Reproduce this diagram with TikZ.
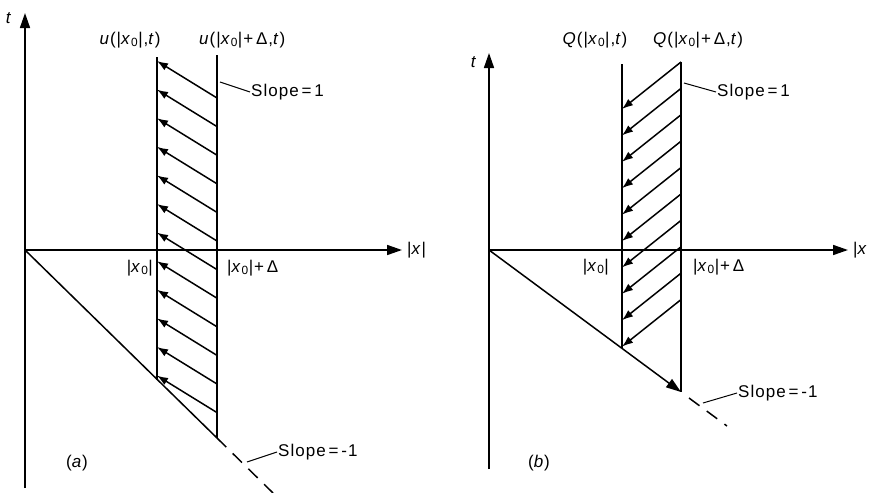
\documentclass[tikz,border=0pt]{standalone}
\usepackage{fontspec}
\setmainfont[LetterSpace=6]{Liberation Sans}
\usetikzlibrary{arrows.meta}
\newcommand\xnull{|\textit{x}\textsubscript{0}|}

\begin{document}
\begin{tikzpicture}[
  x=1pt, y=-1pt,
  font=\fontsize{17}{20}\selectfont,
  axis/.style={line width=1.6pt, -{Triangle[length=15pt,width=10pt]}},
  wall/.style={line width=1.6pt},
  charc/.style={line width=1.5pt, -{Latex[length=11pt,width=8pt]}},
  edge/.style={line width=1.5pt},
  guide/.style={line width=1.5pt, dash pattern=on 13pt off 9pt},
  leader/.style={line width=1pt},
  lbl/.style={inner sep=1pt},
]
\useasboundingbox (0,0) rectangle (871,493);
% Pixel grid, y grows downwards; both panels share the |x| axis at y=250.

% --- Panel (a): u ---------------------------------------------------------
\coordinate (oa) at (25,250);
\coordinate (latop) at (157,57);
\coordinate (labot) at (157,380);
\coordinate (ratop) at (217,55);
\coordinate (rabot) at (217,438);
\coordinate (daend) at (273,493);

\draw[axis] (25,488) -- (25,13) coordinate (tatip);
\draw[axis] (oa) -- (402,250) coordinate (xatip);
\node[lbl] (ta) at (9,18) {\textit{t}};
\node[lbl, anchor=west] (xa) at (406,250) {|\textit{x}|};

\draw[wall] (latop) -- (labot);
\draw[wall] (ratop) -- (rabot);
\draw[edge] (oa) -- (rabot);
\draw[guide] (rabot) -- (daend);

\foreach \k in {0,...,11}
  \draw[charc] (217,{98+28.6*\k}) -- (157,{61+28.6*\k});

\node[lbl] (ua) at (130,40) {\textit{u}(\xnull,\textit{t})};
\node[lbl, anchor=west] (uda) at (198,40) {\textit{u}(\xnull+\,Δ,\textit{t})};
\node[lbl, anchor=east] (x0a) at (154,268) {\xnull};
\node[lbl, anchor=west] (x0da) at (226,268) {\xnull+\,Δ};

\node[lbl, anchor=west] (s1a) at (250,92) {Slope\,=\,1};
\draw[leader] (220,82) -- (s1a.west);
\node[lbl, anchor=west] (sma) at (277,452) {Slope\,=\,-1};
\draw[leader] (247,462) -- (sma.west);
\node[lbl] (capa) at (77,463) {(\textit{a})};

% --- Panel (b): Q ---------------------------------------------------------
\coordinate (ob) at (489,250);
\coordinate (lbtop) at (622,64);
\coordinate (lbbot) at (622,348);
\coordinate (rbtop) at (681,62);
\coordinate (rbbot) at (681,392);
\coordinate (dbbeg) at (689,398);
\coordinate (dbend) at (727,426);

\draw[axis] (489,469) -- (489,53) coordinate (tbtip);
\draw[axis] (ob) -- (848,250) coordinate (xbtip);
\node[lbl] (tb) at (474,62) {\textit{t}};
\node[lbl, anchor=west] (xb) at (852,250) {|\textit{x}};

\draw[wall] (lbtop) -- (lbbot);
\draw[wall] (rbtop) -- (rbbot);
\draw[edge, -{Triangle[length=15pt,width=10pt]}] (ob) -- (rbbot);
\draw[guide] (dbbeg) -- (dbend);

\foreach \k in {0,...,9}
  \draw[charc] (681,{62+26.4*\k}) -- (622,{109+26.4*\k});

\node[lbl] (qb) at (595,40) {\textit{Q}(\xnull,\textit{t})};
\node[lbl, anchor=west] (qdb) at (652,40) {\textit{Q}(\xnull+\,Δ,\textit{t})};
\node[lbl, anchor=east] (x0b) at (610,267) {\xnull};
\node[lbl, anchor=west] (x0db) at (692,267) {\xnull+\,Δ};

\node[lbl, anchor=west] (s1b) at (716,92) {Slope\,=\,1};
\draw[leader] (684,83) -- (s1b.west);
\node[lbl, anchor=west] (smb) at (737,393) {Slope\,=\,-1};
\draw[leader] (703,403) -- (smb.west);
\node[lbl] (capb) at (539,463) {(\textit{b})};

\end{tikzpicture}
\end{document}
